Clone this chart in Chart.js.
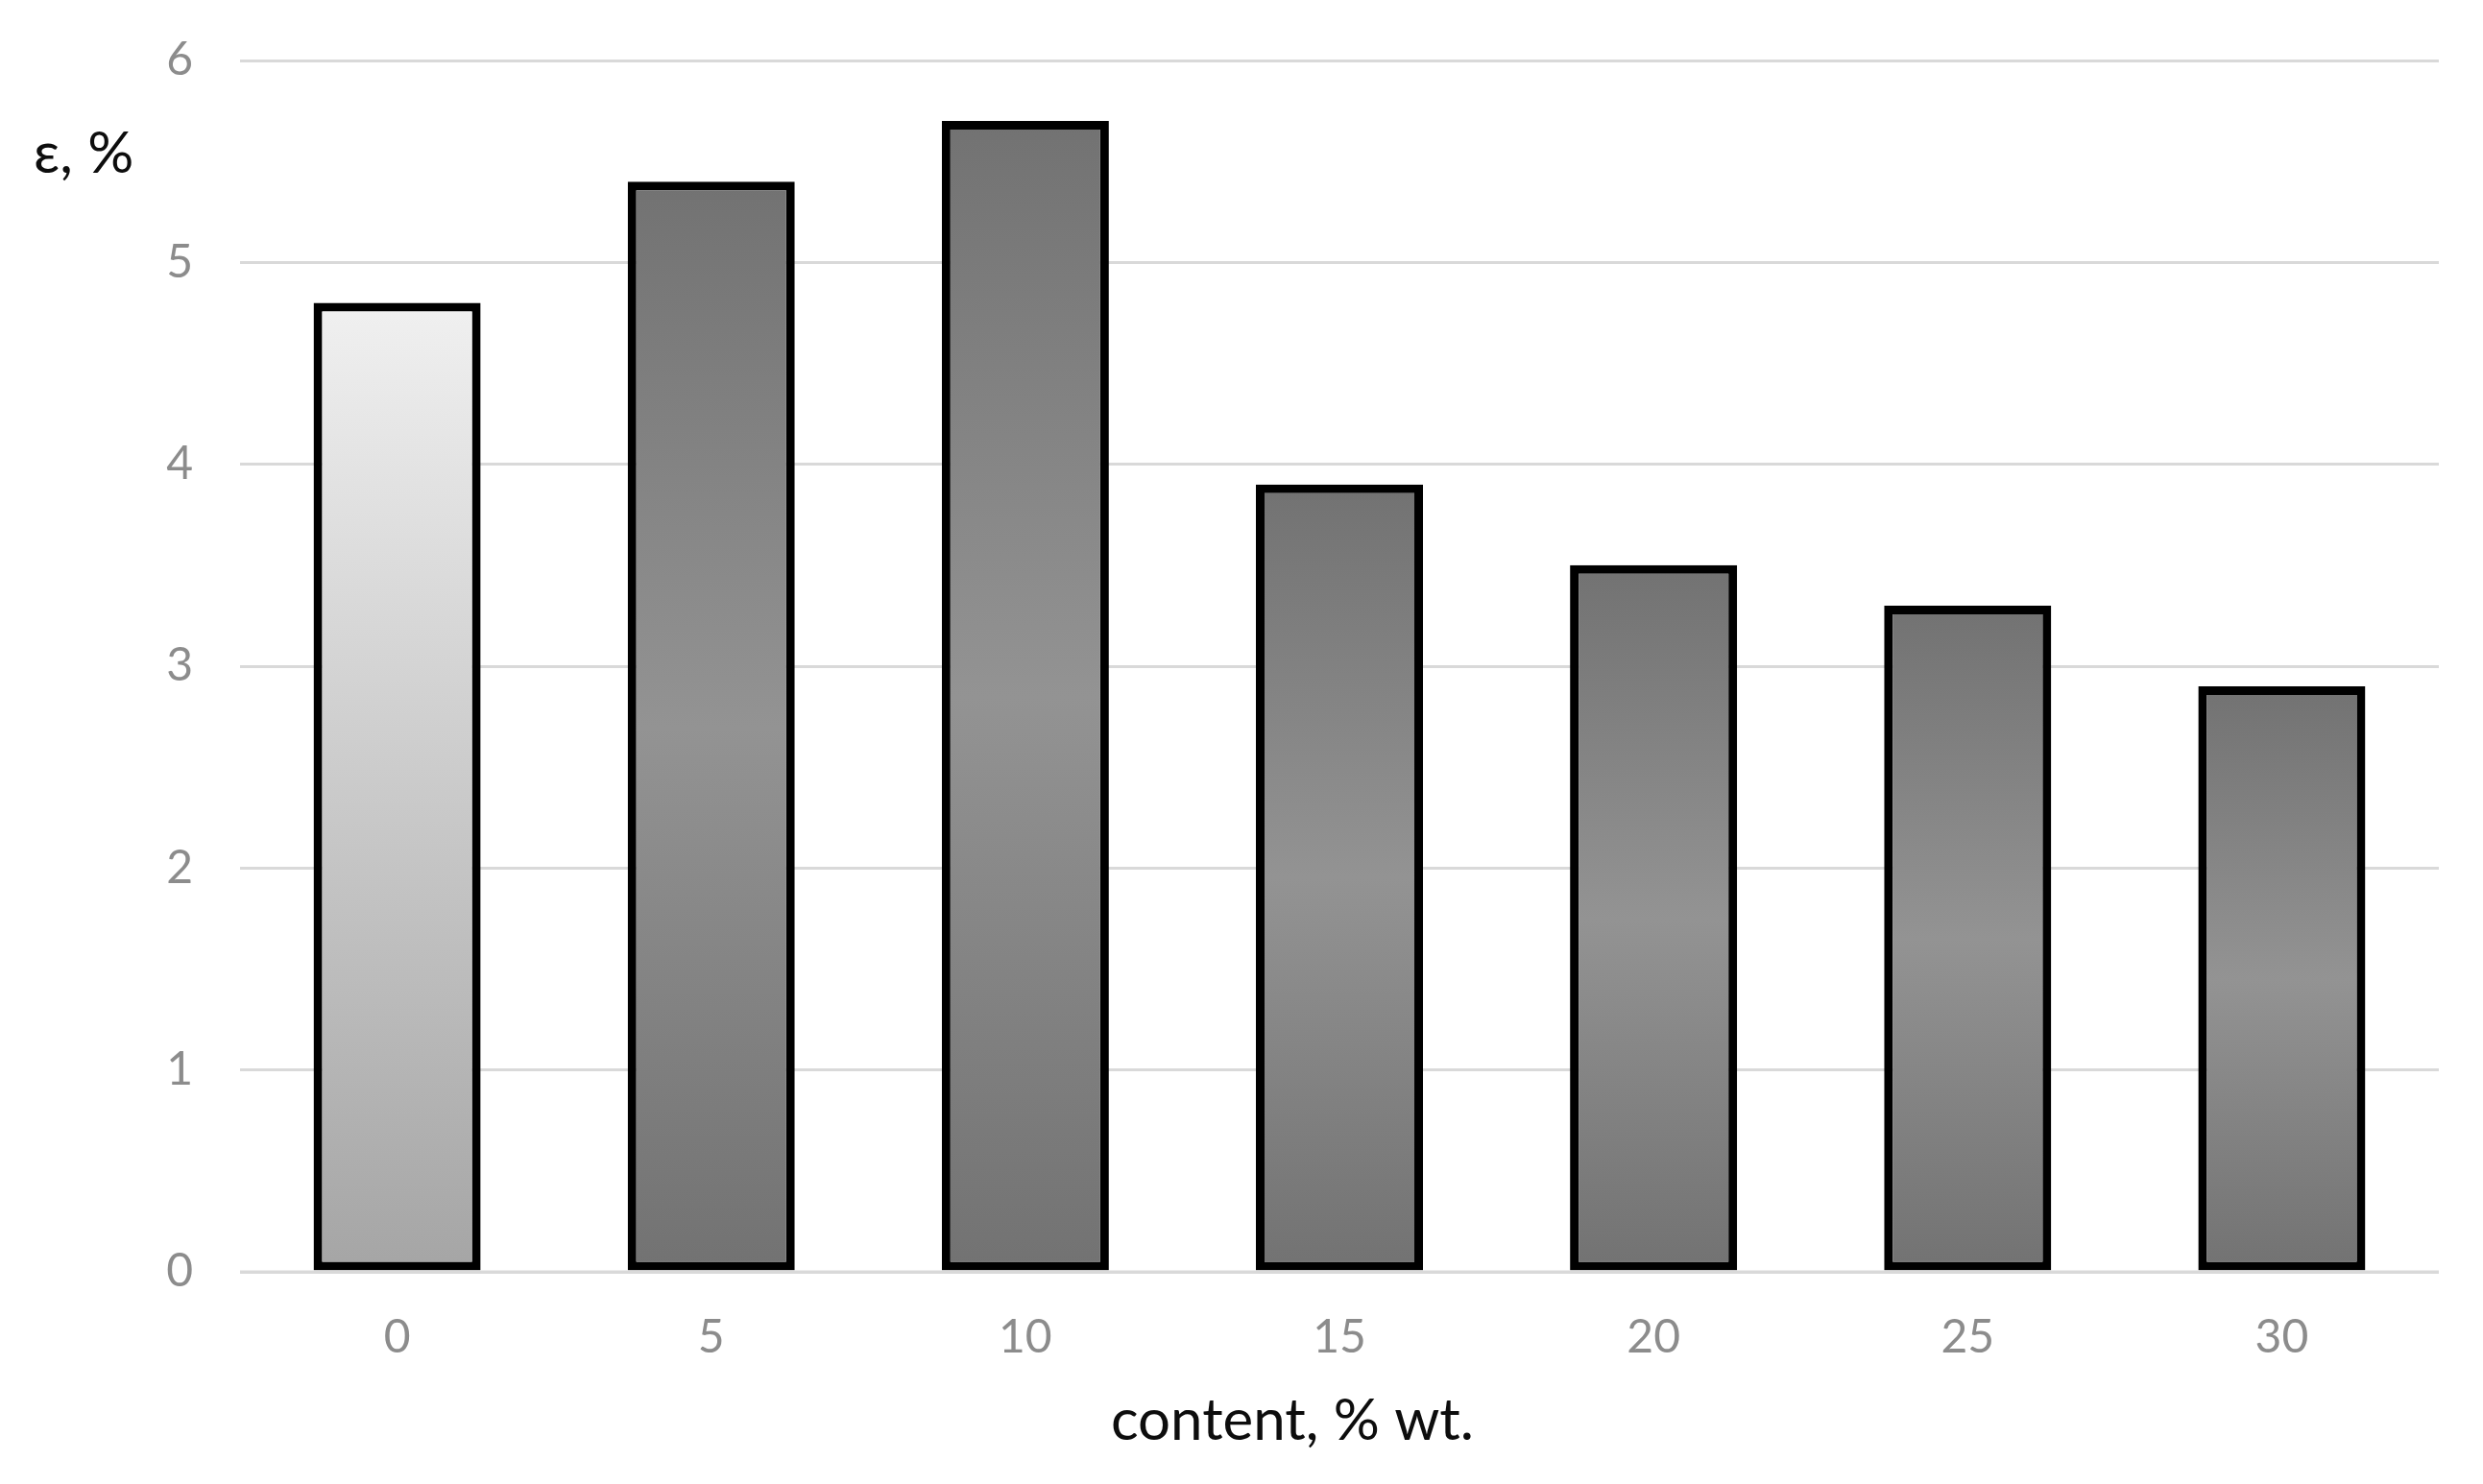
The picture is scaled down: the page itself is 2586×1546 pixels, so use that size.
<!DOCTYPE html>
<html>
<head>
<meta charset="utf-8">
<script src="https://cdn.jsdelivr.net/npm/chart.js@4"></script>
<style>
    html, body { margin: 0; padding: 0; background: #ffffff; }
    #wrap { width: 2586px; height: 1546px; }
</style>
</head>
<body>
<div id="wrap"><canvas id="epsChart" width="2586" height="1546"></canvas></div>
<script>
const contentLabels = ['0', '5', '10', '15', '20', '25', '30'];
const elongation = [4.8, 5.4, 5.7, 3.9, 3.5, 3.3, 2.9];
const yTicks = [0, 1, 2, 3, 4, 5, 6];
const yTitle = 'ε, %';
const xTitle = 'content, % wt.';

const FONT = 'Lato, "Open Sans", sans-serif';

function barFill(context) {
    const chart = context.chart;
    const area = chart.chartArea;
    if (!area) return '#808080';
    const yScale = chart.scales.y;
    const v = context.raw;
    const top = yScale.getPixelForValue(v);
    const bottom = yScale.getPixelForValue(0);
    const g = chart.ctx.createLinearGradient(0, top, 0, bottom);
    if (context.dataIndex === 0) {
        g.addColorStop(0, '#f0f0f0');
        g.addColorStop(1, '#a5a5a5');
    } else {
        g.addColorStop(0, '#727272');
        g.addColorStop(0.5, '#939393');
        g.addColorStop(1, '#727272');
    }
    return g;
}

// zero line sits over the bar bottoms, titles placed like the original
const overlay = {
    id: 'overlay',
    afterDatasetsDraw(chart) {
        const ctx = chart.ctx;
        const y0 = chart.scales.y.getPixelForValue(0);
        ctx.save();
        ctx.strokeStyle = '#d9d9d9';
        ctx.lineWidth = 3;
        ctx.beginPath();
        ctx.moveTo(chart.chartArea.left, y0);
        ctx.lineTo(chart.chartArea.right, y0);
        ctx.stroke();
        ctx.restore();
    },
    afterDraw(chart) {
        const ctx = chart.ctx;
        ctx.save();
        ctx.fillStyle = '#0d0d0d';
        ctx.font = '60px ' + FONT;
        ctx.textBaseline = 'alphabetic';
        ctx.textAlign = 'left';
        ctx.fillText(yTitle, 35, 180);
        ctx.textAlign = 'center';
        ctx.fillText(xTitle, 1346, 1500);
        ctx.restore();
    }
};

new Chart(document.getElementById('epsChart').getContext('2d'), {
    type: 'bar',
    data: {
        labels: contentLabels,
        datasets: [{
            data: elongation,
            backgroundColor: barFill,
            borderColor: '#000000',
            borderWidth: 9,
            borderSkipped: false,
            barPercentage: 0.532,
            categoryPercentage: 1
        }]
    },
    options: {
        responsive: false,
        animation: false,
        devicePixelRatio: 1,
        layout: {
            padding: { top: 63, right: 46, bottom: 0, left: 0 }
        },
        plugins: {
            legend: { display: false },
            tooltip: { enabled: false }
        },
        scales: {
            x: {
                grid: { display: false, drawTicks: false },
                border: { display: false },
                ticks: {
                    color: '#8c8c8c',
                    font: { family: FONT, size: 48 },
                    padding: 40,
                    maxRotation: 0
                },
                afterFit: s => { s.height = 221; }
            },
            y: {
                min: 0,
                max: 6,
                afterBuildTicks: s => { s.ticks = yTicks.map(v => ({ value: v })); },
                grid: { color: '#d9d9d9', lineWidth: 3, drawTicks: false },
                border: { display: false },
                ticks: {
                    color: '#8c8c8c',
                    font: { family: FONT, size: 48 },
                    padding: 49
                },
                afterFit: s => {
                    s.width = 250;
                    s.paddingTop = 0;
                    s.paddingBottom = 0;
                }
            }
        }
    },
    plugins: [overlay]
});
</script>
</body>
</html>
